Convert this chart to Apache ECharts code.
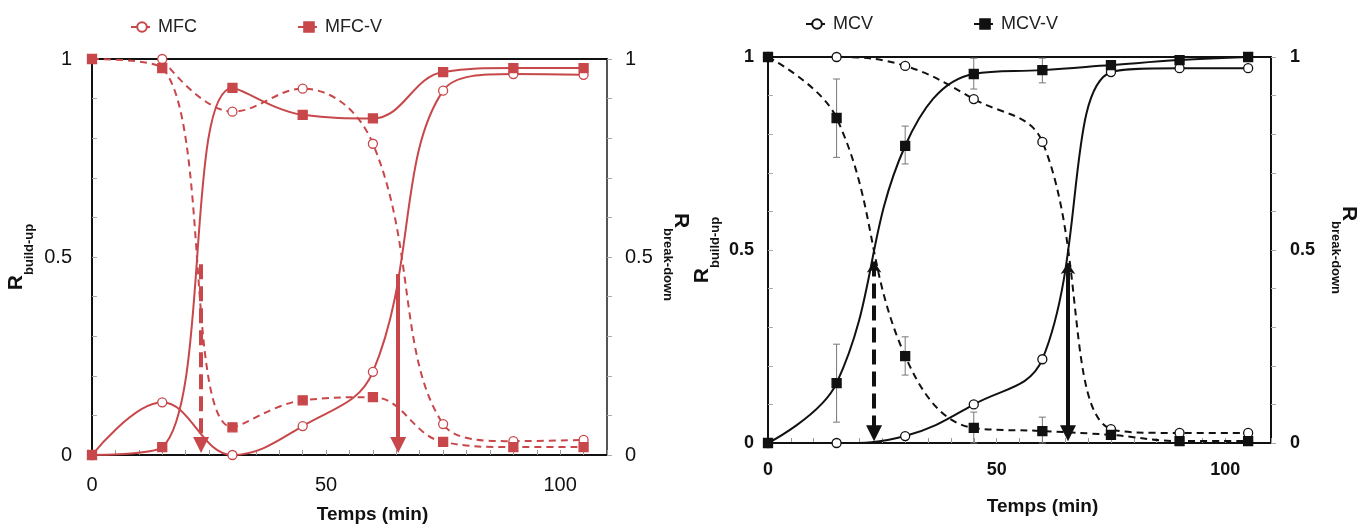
<!DOCTYPE html>
<html><head><meta charset="utf-8">
<script src="https://cdn.jsdelivr.net/npm/echarts@6/dist/echarts.min.js"></script>
<style>html,body{margin:0;padding:0;background:#fff}#c{width:1370px;height:529px}</style>
</head><body><div id="c"></div>
<script>
// ---- data ----
const times = [0, 15, 30, 45, 60, 75, 90, 105];
// Left panel (MFC / MFC-V)
const mfcBreakDown  = [null, 1.0, 0.867, 0.925, 0.786, 0.078, 0.035, 0.038];
const mfcBuildUp    = [0, 0.133, 0.0, 0.073, 0.21, 0.92, 0.962, 0.96];
const mfcvBreakDown = [1.0, 0.977, 0.07, 0.138, 0.146, 0.033, 0.02, 0.02];
const mfcvBuildUp   = [0, 0.02, 0.927, 0.859, 0.85, 0.967, 0.977, 0.977];
// Right panel (MCV / MCV-V)
const mcvBreakDown  = [1.0, 1.0, 0.977, 0.891, 0.78, 0.036, 0.026, 0.026];
const mcvBuildUp    = [0, 0.0, 0.018, 0.10, 0.217, 0.961, 0.971, 0.971];
const mcvvBreakDown = [1.0, 0.842, 0.225, 0.039, 0.031, 0.021, 0.005, 0.005];
const mcvvBuildUp   = [0, 0.155, 0.77, 0.956, 0.966, 0.979, 0.992, 1.0];
// error bars (time, low, high)
const errTimes = [15, 30, 45, 60];
const mcvvBuildUpLow   = [0.054, 0.723, 0.917, 0.933];
const mcvvBuildUpHigh  = [0.256, 0.821, 0.997, 0.997];
const mcvvBreakDownLow = [0.74, 0.176, 0.0, 0.0];
const mcvvBreakDownHigh= [0.943, 0.275, 0.08, 0.067];
// t50 arrows [time, top]
const leftArrowDashed  = [23.3, 0.482];
const leftArrowSolid   = [65.4, 0.457];
const rightArrowDashed = [23.2, 0.47];
const rightArrowSolid  = [65.6, 0.466];
const xTickLabels = [0, 50, 100];
const yTickLabels = [0, 0.5, 1];

// ---- helpers ----
const RED = '#c8474a';
const FONT = '"Liberation Sans", Arial, sans-serif';
const pairs = (xs, ys) => xs.map((x, i) => [x, ys[i]]);

function xAxes(gridIndex, bold, labelMargin, nameGap) {
  return [{
    gridIndex, type: 'value', min: 0, max: 110, interval: 5, position: 'bottom',
    axisLine: { show: true, onZero: false, lineStyle: { color: '#111', width: 2 } },
    axisTick: { show: true, inside: true, length: 5, lineStyle: { color: '#999', width: 1 } },
    splitLine: { show: false },
    axisLabel: {
      margin: labelMargin, fontSize: bold ? 18 : 20, fontWeight: bold ? 'bold' : 'normal',
      color: '#111', fontFamily: FONT,
      formatter: v => xTickLabels.indexOf(Math.round(v)) >= 0 && Math.abs(v - Math.round(v)) < 1e-6 ? String(Math.round(v)) : ''
    },
    name: 'Temps (min)', nameLocation: 'middle', nameGap,
    nameTextStyle: { fontSize: 19, fontWeight: 'bold', color: '#111', fontFamily: FONT, padding: [0, 0, 0, 46] }
  }, {
    gridIndex, type: 'value', min: 0, max: 110, position: 'top',
    axisLine: { show: true, onZero: false, lineStyle: { color: '#111', width: 2 } },
    axisTick: { show: false }, axisLabel: { show: false }, splitLine: { show: false }
  }];
}

function yFormatter(v) {
  for (const t of yTickLabels) if (Math.abs(v - t) < 1e-6) return String(t);
  return '';
}

function yAxes(gridIndex, bold, leftName, rightName, rightRot, leftMargin, rightMargin, leftGap, rightGap, rightColor) {
  const rich = {
    r: { fontSize: 21, fontWeight: 'bold', color: '#111', fontFamily: FONT, lineHeight: 30, verticalAlign: 'top' },
    s: { fontSize: 13, fontWeight: 'bold', color: '#111', fontFamily: FONT, lineHeight: 13, verticalAlign: 'bottom' }
  };
  const lbl = m => ({ margin: m, fontSize: bold ? 18 : 20, fontWeight: bold ? 'bold' : 'normal', color: '#111', fontFamily: FONT, formatter: yFormatter });
  return [{
    gridIndex, type: 'value', min: 0, max: 1, interval: 0.1, position: 'left',
    axisLine: { show: true, onZero: false, lineStyle: { color: '#111', width: 2 } },
    axisTick: { show: true, inside: true, length: 5, lineStyle: { color: '#aaa' } },
    splitLine: { show: false },
    axisLabel: lbl(leftMargin),
    name: '{r|R}{s|' + leftName + '}', nameLocation: 'middle', nameRotate: 90, nameGap: leftGap,
    nameTextStyle: { rich }
  }, {
    gridIndex, type: 'value', min: 0, max: 1, interval: 0.1, position: 'right',
    axisLine: { show: true, onZero: false, lineStyle: { color: rightColor, width: 2 } },
    axisTick: { show: true, inside: false, length: 5, lineStyle: { color: '#aaa' } },
    splitLine: { show: false },
    axisLabel: lbl(rightMargin),
    name: '{r|R}{s|' + rightName + '}', nameLocation: 'middle', nameRotate: rightRot, nameGap: rightGap,
    nameTextStyle: { rich }
  }];
}

function lineSeries(name, xi, yi, data, color, dashed, symbol, fill, extra) {
  return Object.assign({
    name, type: 'line', xAxisIndex: xi, yAxisIndex: yi,
    data: pairs(times, data), smooth: 0.4, connectNulls: false,
    symbol, symbolSize: 9, showAllSymbol: true,
    lineStyle: { color, width: 2, type: dashed ? [7, 5] : 'solid' },
    itemStyle: { color: fill, borderColor: color, borderWidth: 1.3 },
    emphasis: { disabled: true }, z: 3
  }, extra || {});
}

function arrowSeries(xi, yi, arrow, color, dashed, topHead) {
  return {
    type: 'line', xAxisIndex: xi, yAxisIndex: yi, data: [], silent: true,
    markLine: {
      silent: true, animation: false,
      label: { show: false },
      symbolSize: 16,
      lineStyle: { color, width: 4, type: dashed ? [15, 7] : 'solid' },
      data: [[
        { coord: [arrow[0], arrow[1]], symbol: topHead ? 'arrow' : 'none', symbolSize: 11 },
        { coord: [arrow[0], 0.025], symbol: 'triangle', symbolSize: 16 }
      ]]
    }
  };
}

function errSeries(xi, yi, lows, highs) {
  return {
    type: 'custom', xAxisIndex: xi, yAxisIndex: yi, silent: true, z: 2,
    data: errTimes.map((t, i) => [t, lows[i], highs[i]]),
    renderItem: (params, api) => {
      const a = api.coord([api.value(0), api.value(1)]);
      const b = api.coord([api.value(0), api.value(2)]);
      const w = 3.5, st = { stroke: '#777', lineWidth: 1 };
      return { type: 'group', children: [
        { type: 'line', shape: { x1: a[0], y1: a[1], x2: b[0], y2: b[1] }, style: st },
        { type: 'line', shape: { x1: a[0] - w, y1: a[1], x2: a[0] + w, y2: a[1] }, style: st },
        { type: 'line', shape: { x1: b[0] - w, y1: b[1], x2: b[0] + w, y2: b[1] }, style: st }
      ]};
    }
  };
}

const chart = echarts.init(document.getElementById('c'), null, { renderer: 'canvas' });
chart.setOption({
  animation: false,
  backgroundColor: '#fff',
  textStyle: { fontFamily: FONT },
  grid: [
    { left: 92, top: 59, width: 515, height: 398 },
    { left: 768, top: 57, width: 503, height: 386 }
  ],
  legend: [
    { data: ['MFC', 'MFC-V'], left: 125, top: 13, itemWidth: 22, itemHeight: 12, itemGap: 100,
      textStyle: { fontSize: 18, color: '#222', fontFamily: FONT }, selectedMode: false },
    { data: ['MCV', 'MCV-V'], left: 800, top: 10, itemWidth: 22, itemHeight: 12, itemGap: 100,
      textStyle: { fontSize: 18, color: '#222', fontFamily: FONT }, selectedMode: false }
  ],
  xAxis: [...xAxes(0, false, 20, 50), ...xAxes(1, true, 18, 54)],
  yAxis: [...yAxes(0, false, 'build-up', 'break-down', -90, 20, 18, 56, 54, '#555'),
          ...yAxes(1, true, 'build-up', 'break-down', -90, 14, 19, 46, 58, '#111')],
  series: [
    // left panel
    lineSeries('MFC', 0, 0, mfcBreakDown, RED, true, 'circle', '#fff'),
    lineSeries('MFC', 0, 0, mfcBuildUp, RED, false, 'circle', '#fff'),
    lineSeries('MFC-V', 0, 0, mfcvBreakDown, RED, true, 'rect', RED),
    lineSeries('MFC-V', 0, 0, mfcvBuildUp, RED, false, 'rect', RED),
    arrowSeries(0, 0, leftArrowDashed, RED, true, false),
    arrowSeries(0, 0, leftArrowSolid, RED, false, false),
    // right panel
    errSeries(2, 2, mcvvBuildUpLow, mcvvBuildUpHigh),
    errSeries(2, 2, mcvvBreakDownLow, mcvvBreakDownHigh),
    lineSeries('MCV', 2, 2, mcvBreakDown, '#111', true, 'circle', '#fff'),
    lineSeries('MCV', 2, 2, mcvBuildUp, '#111', false, 'circle', '#fff'),
    lineSeries('MCV-V', 2, 2, mcvvBreakDown, '#111', true, 'rect', '#111'),
    lineSeries('MCV-V', 2, 2, mcvvBuildUp, '#111', false, 'rect', '#111'),
    arrowSeries(2, 2, rightArrowDashed, '#111', true, true),
    arrowSeries(2, 2, rightArrowSolid, '#111', false, true)
  ]
});
</script>
</body></html>
